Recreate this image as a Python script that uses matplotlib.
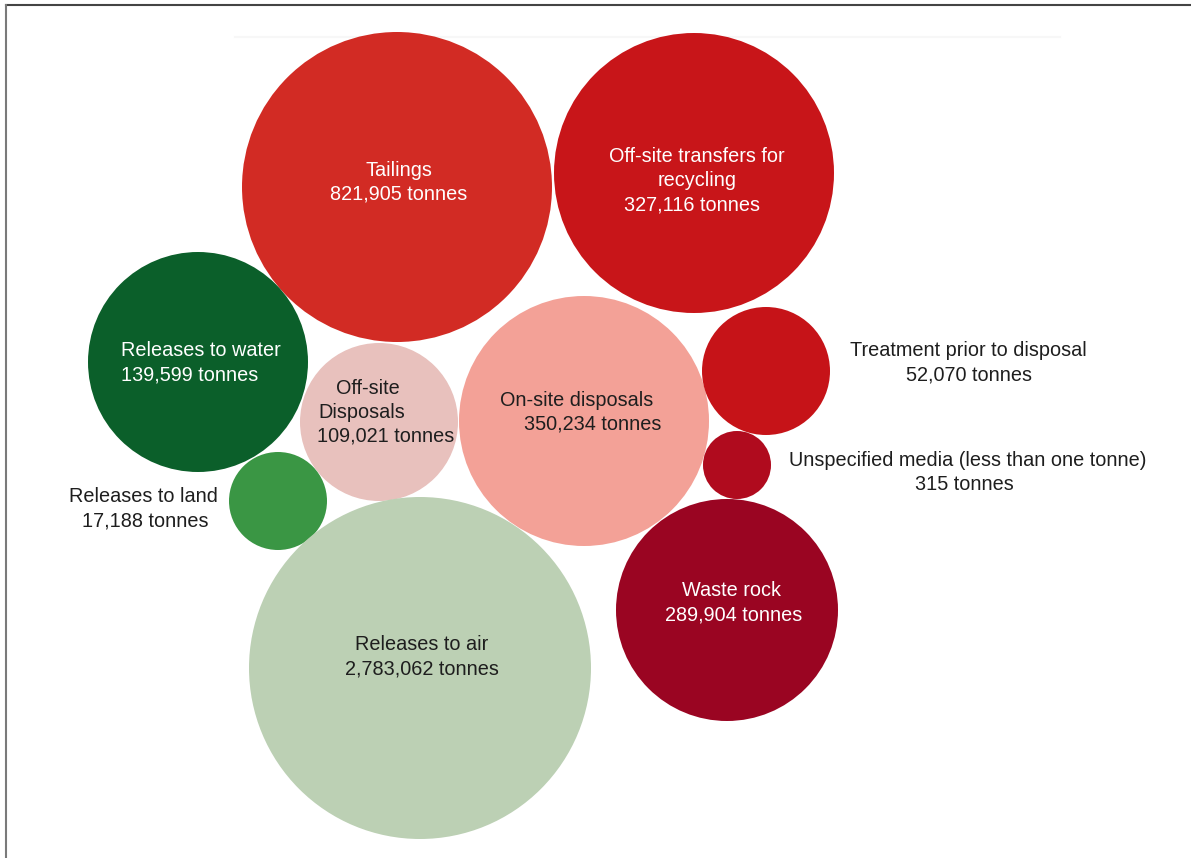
import matplotlib
matplotlib.use("Agg")
import matplotlib.pyplot as plt
from matplotlib.patches import Circle
from matplotlib.lines import Line2D

plt.rcParams['font.family'] = ['Liberation Sans', 'DejaVu Sans']

# ---- data ----
categories = [
    "Tailings",
    "Off-site transfers for\nrecycling",
    "Releases to water",
    "Off-site\nDisposals",
    "On-site disposals",
    "Treatment prior to disposal",
    "Unspecified media (less than one tonne)",
    "Releases to land",
    "Releases to air",
    "Waste rock",
]
tonnes = [821905, 327116, 139599, 109021, 350234, 52070, 315, 17188, 2783062, 289904]

# ---- styling ----
fill_colors = ["#d22b24", "#c81519", "#0b5f2a", "#e8c1bd", "#f3a197",
               "#c61318", "#b00b1e", "#3a9644", "#bcd0b4", "#9a0522"]
text_colors = ["white", "white", "white", "#1e1e1e", "#1e1e1e",
               "#1e1e1e", "#1e1e1e", "#1e1e1e", "#1e1e1e", "white"]

# ---- layout (pixel coordinates, y downward) ----
centers = [(397, 187), (694, 173), (198, 362), (379, 422), (584, 421),
           (766, 371), (737, 465), (278, 501), (420, 668), (727, 610)]
radii = [155, 140, 110, 79, 125, 64, 34, 49, 171, 111]
label_pos = [(399, 182), (697, 181), (121, 363), (378, 412), (577, 412),
             (968, 363), (968, 473), (144, 509), (422, 657), (732, 603)]
label_ha = ["center", "center", "left", "center", "center",
            "center", "center", "center", "center", "center"]
# horizontal nudges for each text line
line_dx = [[0, 0], [0, 0, -5], [0, 0], [-10, -16, 8], [0, 16],
           [0, 1], [0, -4], [-1, 1], [0, 0], [0, 2]]

W, H = 1191, 858
fig = plt.figure(figsize=(W / 100, H / 100), dpi=100)
ax = fig.add_axes([0, 0, 1, 1])
ax.set_xlim(0, W)
ax.set_ylim(H, 0)
ax.set_aspect("equal")
ax.axis("off")

# faint guide line near the top
ax.plot([235, 1060], [37, 37], color="#f7f7f7", lw=1.5, zorder=0)

for name, val, (cx, cy), r, fc, tc, (lx, ly), ha, dxs in zip(
        categories, tonnes, centers, radii, fill_colors, text_colors,
        label_pos, label_ha, line_dx):
    ax.add_patch(Circle((cx, cy), r, facecolor=fc, edgecolor="none", zorder=1))
    lines = name.split("\n") + [f"{val:,} tonnes"]
    n = len(lines)
    for i, line in enumerate(lines):
        y = ly + (i - (n - 1) / 2) * 24
        ax.text(lx + dxs[i], y, line, ha=ha, va="center", color=tc,
                fontsize=14.3, zorder=2)

# frame lines along the top and left edges
fig.add_artist(Line2D([6 / W, 1], [1 - 5 / H, 1 - 5 / H],
                      transform=fig.transFigure, color="#444444", lw=1.5))
fig.add_artist(Line2D([6 / W, 6 / W], [0, 1 - 5 / H],
                      transform=fig.transFigure, color="#7a7a7a", lw=1.5))

fig.savefig("out.png", dpi=100)
